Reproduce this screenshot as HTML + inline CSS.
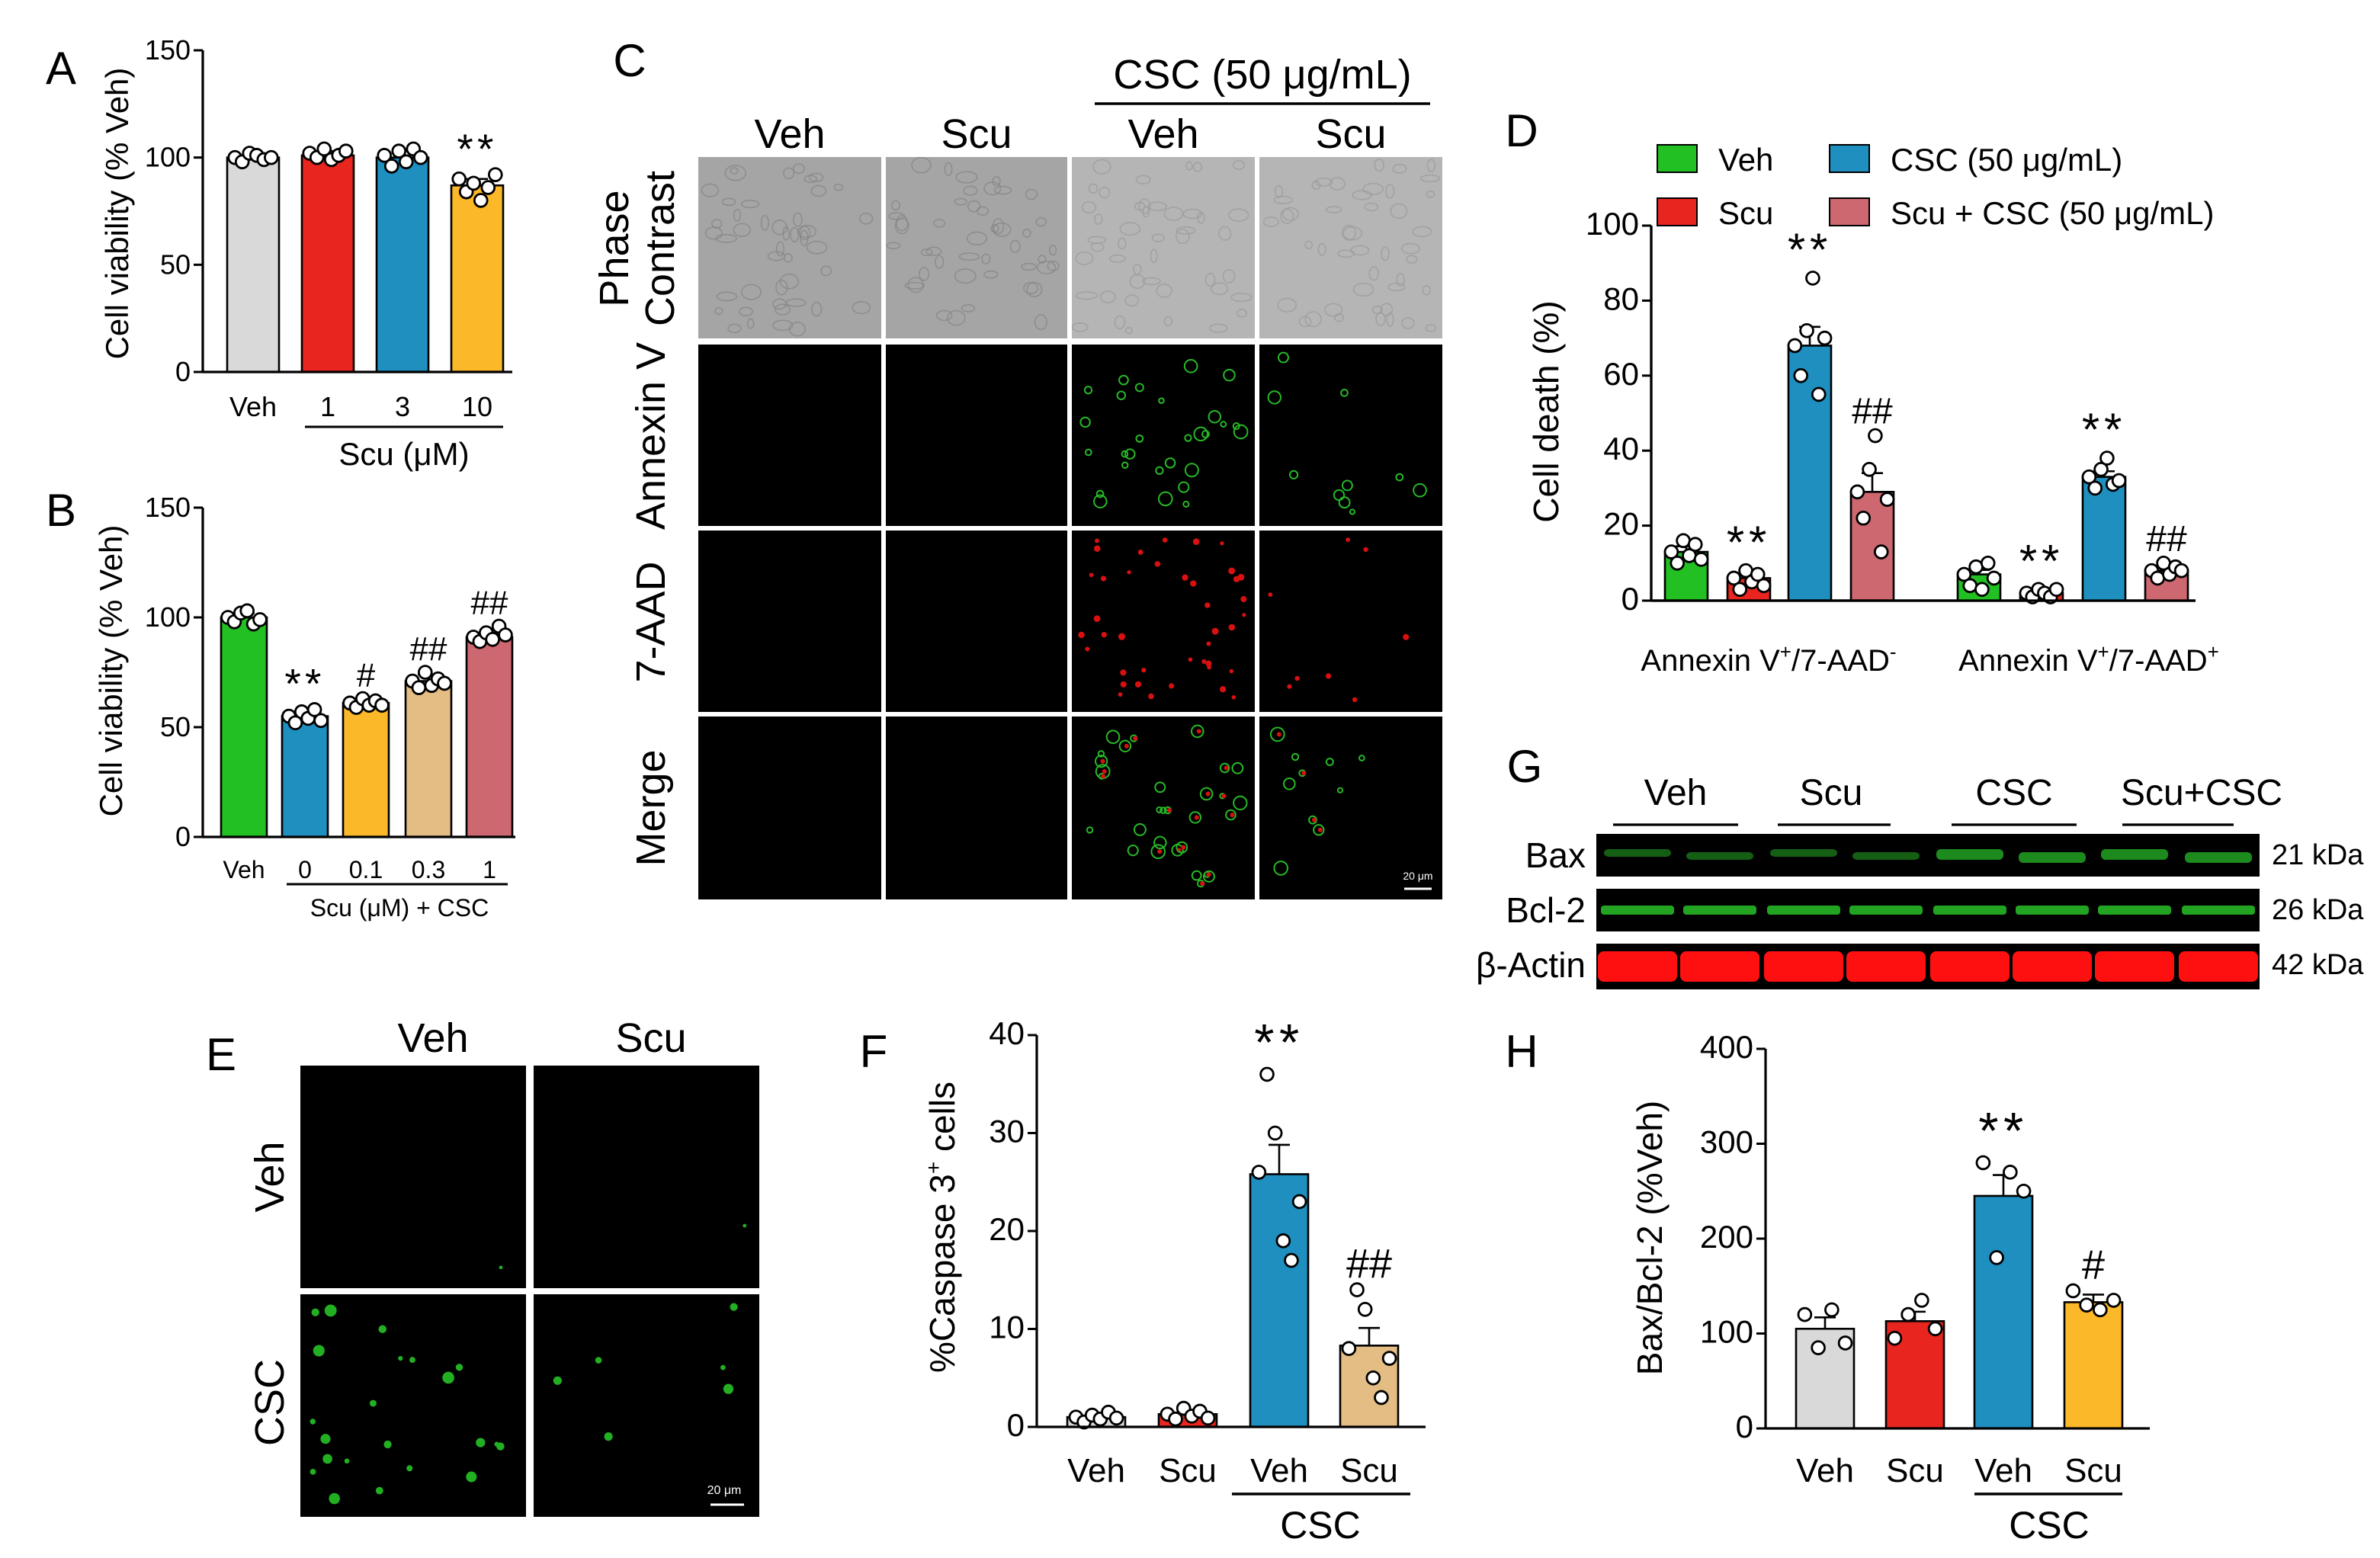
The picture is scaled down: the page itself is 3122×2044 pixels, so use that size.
<!DOCTYPE html>
<html><head><meta charset="utf-8">
<style>
html,body{margin:0;padding:0;background:#fff;}
svg{display:block;font-family:"Liberation Sans",Arial,sans-serif;}
</style></head>
<body>
<svg id="fig" xmlns="http://www.w3.org/2000/svg" width="3122" height="2044" viewBox="0 0 1561 1022">
<rect x="0" y="0" width="1561" height="1022" fill="#fff"/>
<g id="root"></g>
</svg>
<script>
// ---------- Panel A data ----------
const aCats = ['Veh','1','3','10'];
const aVals = [100,101,100,87];
const aErr = [2,2,3,3];
const aPts = [[100,98,102,101,99,100],[102,100,104,99,101,103],[101,96,103,98,104,100],[90,84,88,80,86,92]];
const aTicks = [0,50,100,150];
const aAnn = ['','','','**'];
// ---------- Panel B data ----------
const bCats = ['Veh','0','0.1','0.3','1'];
const bVals = [100,55,61,71,91];
const bErr = [2,2,2,3,2];
const bPts = [[100,98,102,103,97,99],[55,52,57,54,58,53],[61,59,63,60,62,60],[71,68,75,69,72,70],[91,89,93,90,96,92]];
const bTicks = [0,50,100,150];
const bAnn = ['','**','#','##','##'];
// ---------- Panel D data ----------
const dGroups = ['Annexin V+/7-AAD-','Annexin V+/7-AAD+'];
const dSeries = ['Veh','Scu','CSC (50 μg/mL)','Scu + CSC (50 μg/mL)'];
const dVals1 = [13,6,68,29];
const dVals2 = [7,2,33,8];
const dErr1 = [1.5,1,5,5];
const dErr2 = [1.2,0.5,1.5,1];
const dPts1 = [[13,10,16,12,15,11],[6,3,8,5,7,4],[68,60,72,86,55,70],[29,22,35,44,13,27]];
const dPts2 = [[7,4,9,3,10,6],[2,1,3,2,1,3],[33,30,35,38,31,32],[8,6,10,7,9,8]];
const dAnn1 = ['','**','**','##'];
const dAnn2 = ['','**','**','##'];
const dTicks = [0,20,40,60,80,100];
// ---------- Panel F data ----------
const fCats = ['Veh','Scu','Veh','Scu'];
const fVals = [1,1.3,25.8,8.3];
const fErr = [0.2,0.2,3,1.8];
const fPts = [[1,0.5,1.2,0.8,1.5,0.9],[1.3,0.8,1.9,1.1,1.6,0.9],[26,36,30,19,17,23],[8,14,12,5,3,7]];
const fTicks = [0,10,20,30,40];
const fAnn = ['','','**','##'];
// ---------- Panel H data ----------
const hCats = ['Veh','Scu','Veh','Scu'];
const hVals = [105,113,245,133];
const hErr = [12,10,22,8];
const hPts = [[120,85,125,90],[95,120,135,105],[280,180,270,250],[145,130,125,135]];
const hTicks = [0,100,200,300,400];
const hAnn = ['','','**','#'];

const NS='http://www.w3.org/2000/svg';
const root=document.getElementById('root');
const C={gray:'#d9d9d9',red:'#e8251f',blue:'#1f8fc0',yellow:'#fbb829',green:'#22c022',tan:'#e3bd84',pink:'#cd6770'};
function el(tag,attrs,parent,txt){const e=document.createElementNS(NS,tag);for(const k in attrs)e.setAttribute(k,attrs[k]);if(txt!==undefined)e.textContent=txt;(parent||root).appendChild(e);return e;}
function txt(x,y,s,size,anchor,name,extra){const t=el('text',Object.assign({x:x,y:y,'font-size':size,'text-anchor':anchor||'middle',fill:'#000'},extra||{}),null,s);


return t;}
function vtxt(x,y,s,size,name){const t=el('text',{x:0,y:0,'font-size':size,'text-anchor':'middle',transform:`translate(${x},${y}) rotate(-90)`},null,s);


return t;}
function line(x1,y1,x2,y2,w,name){const l=el('line',{x1,y1,x2,y2,stroke:'#000','stroke-width':w||1.5});


return l;}

function barChart(o){
 const ys=v=>o.y0-(v/o.max)*(o.y0-o.yTop);
 const g=el('g',{});
 
 
 o.vals.forEach((v,i)=>{
  const cx=o.centers[i],w=o.width;
  const r=el('rect',{x:cx-w/2,y:ys(v),width:w,height:o.y0-ys(v),fill:o.colors[i],stroke:'#000','stroke-width':1.3},g);
  
  
  const e=o.err[i];
  const eb=el('path',{d:`M${cx},${ys(v)} V${ys(v+e)} M${cx-7},${ys(v+e)} H${cx+7}`,stroke:'#000','stroke-width':1.3,fill:'none'},g);
  
  
  const n=o.pts[i].length;
  o.pts[i].forEach((p,j)=>{
   const off=(j-(n-1)/2)*(o.width*0.7/(n-1||1));
   const c=el('circle',{cx:cx+off,cy:ys(p),r:4.2,fill:'#fff',stroke:'#000','stroke-width':1.4},g);
   
   
  });
  if(o.ann[i]){
   const top=Math.max(v+e,...o.pts[i]);
   const star=o.ann[i].indexOf('*')>=0;
   const s=o.annSize||22;
   txt(cx,ys(top)-(star?s*0.35:8),o.ann[i],star?s*1.25:s,'middle',o.prefix+'-significance-'+i,star?{'letter-spacing':s*0.12}:{});
  }
 });
 line(o.axisX,o.yTop,o.axisX,o.y0,1.6,o.prefix+'-y-axis');
 line(o.axisX,o.y0,o.xEnd,o.y0,1.6,o.prefix+'-x-axis');
 o.ticks.forEach(t=>{line(o.axisX-6,ys(t),o.axisX,ys(t),1.5,o.prefix+'-y-tick');
  txt(o.axisX-8,ys(t)+6,String(t),o.tickSize||18,'end',o.prefix+'-y-tick-label');});
 if(o.cats)o.cats.forEach((c,i)=>txt(o.centers[i],o.labelY,c,o.catSize||20,'middle',o.prefix+'-x-label'));
}

// ---- Panel A ----
txt(40,55,'A',30,'middle','panel-a-letter');
barChart({prefix:'a',axisX:133,y0:244,yTop:33,max:150,xEnd:336,centers:[166,215,264,313],width:34,vals:aVals,err:aErr,pts:aPts,
 colors:[C.gray,C.red,C.blue,C.yellow],ticks:aTicks,ann:aAnn,cats:aCats,labelY:273,catSize:18});
line(200,280,330,280,1.5,'a-scu-bracket');
txt(265,305,'Scu (μM)',21,'middle','a-x-title');
vtxt(84,140,'Cell viability (% Veh)',21,'a-y-title');

// ---- Panel B ----
txt(40,345,'B',30,'middle','panel-b-letter');
barChart({prefix:'b',axisX:133,y0:549,yTop:333,max:150,xEnd:338,centers:[160,200,240,281,321],width:30,vals:bVals,err:bErr,pts:bPts,
 colors:[C.green,C.blue,C.yellow,C.tan,C.pink],ticks:bTicks,ann:bAnn,cats:bCats,labelY:576,catSize:16});
line(188,580,333,580,1.5,'b-scu-bracket');
txt(262,601,'Scu (μM) + CSC',16,'middle','b-x-title');
vtxt(80,440,'Cell viability (% Veh)',21,'b-y-title');

// ---- Panel C (micrographs) ----
txt(413,50,'C',30,'middle','panel-c-letter');
const cCols=[[458,578],[581,700],[703,823],[826,946]];
const cRows=[[103,222],[226,345],[348,467],[470,590]];
const cColLabels=['Veh','Scu','Veh','Scu'];
cColLabels.forEach((s,i)=>txt((cCols[i][0]+cCols[i][1])/2,97,s,27,'middle','c-column-label'));
txt(828,58,'CSC (50 μg/mL)',27,'middle','c-csc-header');
line(718,68,938,68,1.8,'c-csc-bracket');
vtxt(412,163,'Phase',27,'c-row-label');vtxt(442,163,'Contrast',27,'c-row-label');
vtxt(436,286,'Annexin V',27,'c-row-label');
vtxt(436,408,'7-AAD',27,'c-row-label');
vtxt(436,530,'Merge',27,'c-row-label');
const cg=el('g',{});


el('rect',{x:456,y:101,width:492,height:491,fill:'#fff'},cg);
let seed=7;function rnd(){seed=(seed*9301+49297)%233280;return seed/233280;}
cRows.forEach((r,ri)=>cCols.forEach((c,ci)=>{
 const im=el('rect',{x:c[0],y:r[0],width:c[1]-c[0],height:r[1]-r[0],fill:ri===0?(ci<2?'#a5a5a5':'#b5b5b5'):'#000'},cg);
 
 
 if(ri===0){for(let k=0;k<45;k++){el('ellipse',{cx:c[0]+5+rnd()*(c[1]-c[0]-10),cy:r[0]+5+rnd()*(r[1]-r[0]-10),rx:2+rnd()*5,ry:2+rnd()*3,fill:'none',stroke:ci<2?'#858585':'#9a9a9a','stroke-width':0.8,'stroke-opacity':0.7},cg);}}
 const csc=ci>=2;
 if(ri===1&&csc){const n=ci===2?28:10;for(let k=0;k<n;k++)el('circle',{cx:c[0]+8+rnd()*(c[1]-c[0]-16),cy:r[0]+8+rnd()*(r[1]-r[0]-16),r:1.5+rnd()*3,fill:'none',stroke:'#27b827','stroke-width':1},cg);}
 if(ri===2&&csc){const n=ci===2?40:8;for(let k=0;k<n;k++)el('circle',{cx:c[0]+5+rnd()*(c[1]-c[0]-10),cy:r[0]+5+rnd()*(r[1]-r[0]-10),r:1.3+rnd()*1,fill:'#d81010'},cg);}
 if(ri===3&&csc){const n=ci===2?30:10;for(let k=0;k<n;k++){const x=c[0]+8+rnd()*(c[1]-c[0]-16),y=r[0]+8+rnd()*(r[1]-r[0]-16);el('circle',{cx:x,cy:y,r:1.5+rnd()*3,fill:'none',stroke:'#27b827','stroke-width':1},cg);if(rnd()>0.5)el('circle',{cx:x+1,cy:y,r:1.5,fill:'#d81010'},cg);}}
}));
txt(930,577,'20 μm',7,'middle','c-scale-text',{fill:'#fff'});
line(921,583,939,583,1.5,'c-scale-bar').setAttribute('stroke','#fff');

// ---- Panel D ----
txt(998,96,'D',30,'middle','panel-d-letter');
const dCols=[C.green,C.red,C.blue,C.pink];
const dLeg=[[1087,104],[1087,139],[1200,104],[1200,139]];
dSeries.forEach((s,i)=>{const r=el('rect',{x:dLeg[i][0],y:dLeg[i][1]-9,width:26,height:18,fill:dCols[i],stroke:'#000','stroke-width':1});
 
 
 txt(dLeg[i][0]+40,dLeg[i][1]+8,s,21,'start','d-legend-entry');});
barChart({prefix:'d1',axisX:1083,y0:394,yTop:148,max:100,xEnd:1440,centers:[1106,1147,1187,1228],width:28,vals:dVals1,err:dErr1,pts:dPts1,
 colors:dCols,ticks:dTicks,ann:dAnn1,tickSize:21,annSize:24});
barChart({prefix:'d2',axisX:1083,y0:394,yTop:148,max:100,xEnd:1440,centers:[1298,1339,1380,1421],width:28,vals:dVals2,err:dErr2,pts:dPts2,
 colors:dCols,ticks:[],ann:dAnn2,annSize:24});
function annexLabel(x,y,plus,name){const t=el('text',{x,y,'font-size':20,'text-anchor':'middle'});
 
 const parts=[['Annexin V',0],['+',1],['/7-AAD',0],[plus,1]];
 parts.forEach(p=>{el('tspan',p[1]?{'font-size':13,dy:-8}:{'font-size':20,dy:p[0]==='Annexin V'?0:8},t,p[0]);});
}
annexLabel(1160,440,'-','d-group-label-1');
annexLabel(1370,440,'+','d-group-label-2');
vtxt(1022,270,'Cell death (%)',23,'d-y-title');

// ---- Panel G (western blot) ----
txt(1000,513,'G',30,'middle','panel-g-letter');
const gHeads=[['Veh',1099,1058,1140],['Scu',1201,1166,1240],['CSC',1321,1280,1362],['Scu+CSC',1444,1392,1465]];
gHeads.forEach(h=>{txt(h[1],528,h[0],24,'middle','g-lane-header');line(h[2],541,h[3],541,1.6,'g-lane-bracket');});
const lanes=[1074,1128,1183,1237,1292,1346,1400,1455];
const bRows=[['Bax',547,575,'21 kDa'],['Bcl-2',583,611,'26 kDa'],['β-Actin',619,649,'42 kDa']];
bRows.forEach((b,bi)=>{const r=el('rect',{x:1047,y:b[1],width:435,height:b[2]-b[1],fill:'#000'});
 
 txt(1040,b[1]+22,b[0],23,'end','g-row-label');txt(1490,b[1]+20,b[3],19,'start','g-kda-label');
 lanes.forEach((lx,li)=>{const cy=(b[1]+b[2])/2;
  if(bi===0)el('rect',{x:lx-22,y:cy-3+(li%2?1:-1),width:44,height:li>=4?7:5,rx:3,fill:li>=4?'#1d8a1d':'#155f15'});
  if(bi===1)el('rect',{x:lx-24,y:cy-3,width:48,height:6,rx:2,fill:'#22a322'});
  if(bi===2)el('rect',{x:lx-26,y:cy-10,width:52,height:20,rx:4,fill:'#ff1010'});
 });
});

// ---- Panel E ----
txt(145,702,'E',30,'middle','panel-e-letter');
txt(284,690,'Veh',27,'middle','e-column-label');txt(427,690,'Scu',27,'middle','e-column-label');
vtxt(186,772,'Veh',27,'e-row-label');vtxt(186,920,'CSC',27,'e-row-label');
const eCells=[[197,345,699,845],[350,498,699,845],[197,345,849,995],[350,498,849,995]];
eCells.forEach((c,i)=>{const r=el('rect',{x:c[0],y:c[2],width:c[1]-c[0],height:c[3]-c[2],fill:'#000'});
 
 const n=i===2?22:(i===3?6:1);for(let k=0;k<n;k++)el('circle',{cx:c[0]+8+rnd()*(c[1]-c[0]-16),cy:c[2]+8+rnd()*(c[3]-c[2]-16),r:i<2?1.2:1.5+rnd()*2.5,fill:'#22b022'});});
txt(475,980,'20 μm',8,'middle','e-scale-text',{fill:'#fff'});
line(466,987,488,987,1.5,'e-scale-bar').setAttribute('stroke','#fff');

// ---- Panel F ----
txt(573,700,'F',30,'middle','panel-f-letter');
barChart({prefix:'f',axisX:680,y0:936,yTop:679,max:40,xEnd:935,centers:[719,779,839,898],width:38,vals:fVals,err:fErr,pts:fPts,
 colors:[C.gray,C.red,C.blue,C.tan],ticks:fTicks,ann:fAnn,cats:fCats,labelY:972,catSize:22,tickSize:21,annSize:27});
line(808,980,925,980,1.8,'f-csc-bracket');
txt(866,1009,'CSC',25,'middle','f-csc-label');
(function(){const t=el('text',{x:0,y:0,'font-size':23,'text-anchor':'middle',transform:'translate(626,805) rotate(-90)'});
 
 el('tspan',{},t,'%Caspase 3');el('tspan',{'font-size':14,dy:-9},t,'+');el('tspan',{'font-size':23,dy:9},t,' cells');})();

// ---- Panel H ----
txt(998,700,'H',30,'middle','panel-h-letter');
barChart({prefix:'h',axisX:1158,y0:937,yTop:688,max:400,xEnd:1410,centers:[1197,1256,1314,1373],width:38,vals:hVals,err:hErr,pts:hPts,
 colors:[C.gray,C.red,C.blue,C.yellow],ticks:hTicks,ann:hAnn,cats:hCats,labelY:972,catSize:22,tickSize:21,annSize:27});
line(1295,980,1392,980,1.8,'h-csc-bracket');
txt(1344,1009,'CSC',25,'middle','h-csc-label');
vtxt(1090,812,'Bax/Bcl-2 (%Veh)',23,'h-y-title');
</script>
</body></html>
